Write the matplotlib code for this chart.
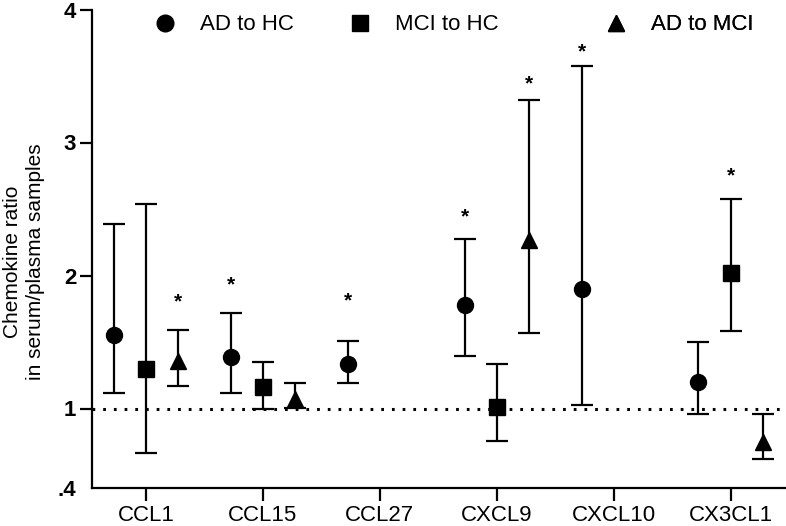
import numpy as np
import matplotlib
matplotlib.use("Agg")
import matplotlib.pyplot as plt
from matplotlib.lines import Line2D

plt.rcParams['font.family'] = ['Liberation Sans', 'DejaVu Sans']

categories = ['CCL1', 'CCL15', 'CCL27', 'CXCL9', 'CXCL10', 'CX3CL1']
nan = np.nan

ad_hc_mean = [1.556, 1.386, 1.336, 1.780, 1.900, 1.198]
ad_hc_low = [1.120, 1.120, 1.188, 1.391, 1.030, 0.960]
ad_hc_high = [2.389, 1.717, 1.509, 2.276, 3.575, 1.499]

mci_hc_mean = [1.298, 1.160, nan, 1.010, nan, 2.017]
mci_hc_low = [0.664, 1.000, nan, 0.759, nan, 1.579]
mci_hc_high = [2.539, 1.346, nan, 1.336, nan, 2.577]

ad_mci_mean = [1.360, 1.073, nan, 2.268, nan, 0.747]
ad_mci_low = [1.168, 1.005, nan, 1.566, nan, 0.619]
ad_mci_high = [1.589, 1.190, nan, 3.320, nan, 0.960]

# significance stars: (category index, series index, y)
star_cat = [0, 1, 2, 3, 3, 4, 5]
star_series = [2, 0, 0, 0, 2, 0, 1]
star_y = [1.80, 1.93, 1.81, 2.44, 3.44, 3.68, 2.75]

series_names = ['AD to HC', 'MCI to HC', 'AD to MCI']
series_markers = ['o', 's', '^']
offsets = [-0.275, 0.0, 0.275]
yticks = [0.4, 1, 2, 3, 4]
ytick_labels = ['.4', '1', '2', '3', '4']

fig = plt.figure(figsize=(7.86, 5.26), dpi=100)
ax = fig.add_axes([91.5 / 786, 1 - 488.3 / 526, (785 - 91.5) / 786, (488.3 - 9.5) / 526])

x = np.arange(len(categories))
means = [ad_hc_mean, mci_hc_mean, ad_mci_mean]
lows = [ad_hc_low, mci_hc_low, ad_mci_low]
highs = [ad_hc_high, mci_hc_high, ad_mci_high]

ax.axhline(1, color='black', lw=2.2, linestyle=(0, (0.9, 2.6)), zorder=1)

for s in range(3):
    m = np.array(means[s], dtype=float)
    lo = np.array(lows[s], dtype=float)
    hi = np.array(highs[s], dtype=float)
    ok = ~np.isnan(m)
    xs = x[ok] + offsets[s]
    ax.errorbar(xs, m[ok], yerr=[m[ok] - lo[ok], hi[ok] - m[ok]], fmt='none',
                ecolor='black', elinewidth=1.6, capsize=8, capthick=1.6, zorder=2)
    ms = {'o': 11.5, 's': 11.5, '^': 12}[series_markers[s]]
    ax.plot(xs, m[ok], linestyle='none', marker=series_markers[s], color='black',
            markersize=ms, zorder=3)

for c, s, yv in zip(star_cat, star_series, star_y):
    ax.text(x[c] + offsets[s], yv, '*', ha='center', va='center', fontsize=15,
            fontweight='bold', color='black')

ax.set_xlim(-0.465, 5.465)
ax.set_ylim(0.4, 4.0)
ax.set_xticks(x)
ax.set_xticklabels(categories, fontsize=16)
ax.set_yticks(yticks)
ax.set_yticklabels(ytick_labels, fontsize=16, fontweight='bold')
ax.spines['top'].set_visible(False)
ax.spines['right'].set_visible(False)
for sp in ['left', 'bottom']:
    ax.spines[sp].set_linewidth(1.6)
ax.tick_params(axis='both', direction='out', length=9, width=1.6, colors='black')
ax.tick_params(axis='y', pad=2)
ax.tick_params(axis='x', pad=3)
ax.yaxis.get_major_ticks()[0].tick1line.set_visible(False)

fig.text(24 / 786, 1 - 262 / 526, 'Chemokine ratio\nin serum/plasma samples', rotation=90,
         ha='center', va='center', fontsize=15, linespacing=1.3, multialignment='center')

# legend entries
leg_x = [165, 360, 616]
for i in range(3):
    h = Line2D([], [], linestyle='none', marker=series_markers[i], color='black',
               markersize=12)
    leg = ax.legend(handles=[h], labels=[series_names[i]], loc='center left',
                    bbox_to_anchor=((leg_x[i] - 22) / 786, 1 - 25 / 526),
                    bbox_transform=fig.transFigure, frameon=False, fontsize=16,
                    handlelength=2.0, handletextpad=0.55, borderpad=0,
                    borderaxespad=0)
    ax.add_artist(leg)

fig.savefig('out.png', dpi=100)
